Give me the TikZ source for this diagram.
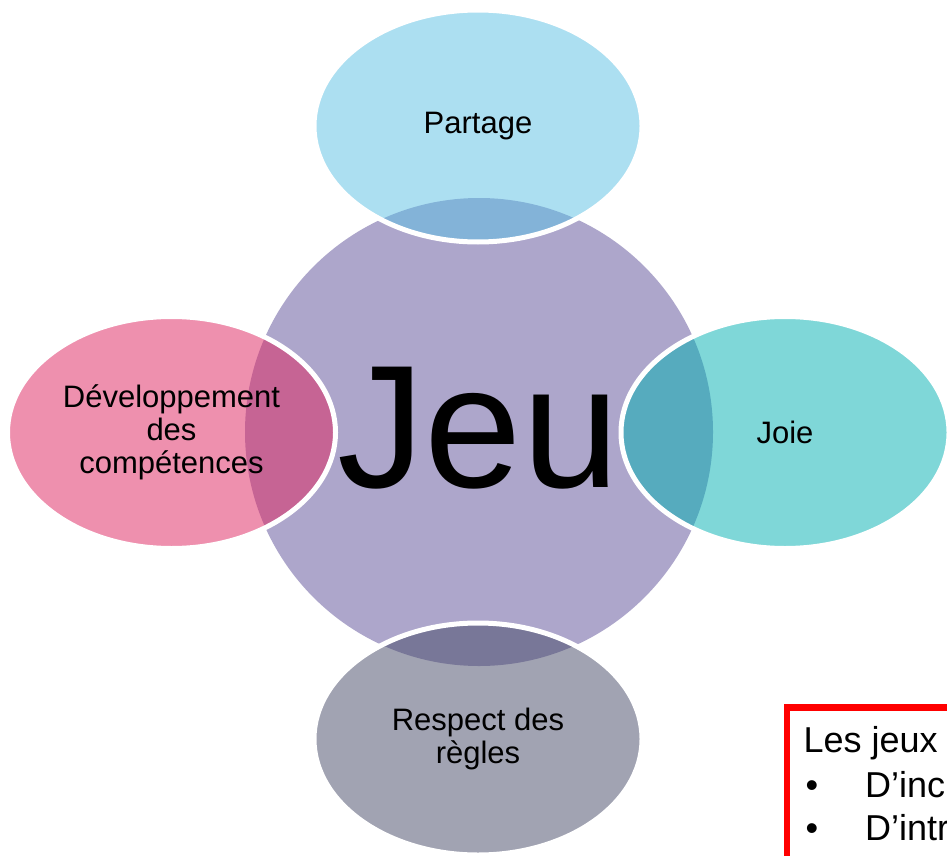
\documentclass[tikz,border=0pt]{standalone}
\usepackage{fontspec}
\setmainfont{Liberation Sans}
\usetikzlibrary{shapes.geometric}
\definecolor{circc}{RGB}{173,166,203}
\definecolor{topc}{RGB}{91,193,229}
\definecolor{leftc}{RGB}{223,35,95}
\definecolor{rightc}{RGB}{0,177,179}
\definecolor{botc}{RGB}{69,73,103}
\definecolor{boxred}{RGB}{255,0,0}
\tikzset{
  petal/.style={ellipse, draw=white, line width=5pt, fill opacity=0.5, text opacity=1,
    minimum width=328pt, minimum height=232pt, inner sep=0pt, align=center,
    font=\fontsize{31}{33}\selectfont},
  hub/.style={circle, fill=circc, minimum size=468pt, inner sep=0pt},
  boxtext/.style={inner sep=0pt, font=\fontsize{36}{36}\selectfont},
}
\begin{document}
\begin{tikzpicture}[x=1pt,y=-1pt]
\useasboundingbox (0,0) rectangle (947,856);
\clip (0,0) rectangle (947,856);
\fill[white] (0,0) rectangle (947,856);
\node[hub] (hub) at (479,432) {};
\node[anchor=base, inner sep=0pt, font=\fontsize{175}{175}\selectfont] (jeu) at (478.5,487) {Jeu};
\node[petal, fill=topc] (partage) at (478,126) {Partage};
\node[petal, fill=leftc] (dev) at (171.5,432.5) {Développement\\des\\compétences};
\node[petal, fill=rightc] (joie) at (785,432.5) {Joie};
\node[petal, fill=botc] (respect) at (478,739) {Respect des\\règles};
\draw[boxred, line width=6.5pt] (787,707.5) rectangle (1010,920);
\node[boxtext, anchor=base west] (t1) at (803.5,752.5) {Les jeux};
\node[boxtext, anchor=base] (b1) at (812,797) {•};
\node[boxtext, anchor=base west] (t2) at (865,797) {D’inc};
\node[boxtext, anchor=base] (b2) at (812,840) {•};
\node[boxtext, anchor=base west] (t3) at (865,840) {D’intr};
\end{tikzpicture}
\end{document}
